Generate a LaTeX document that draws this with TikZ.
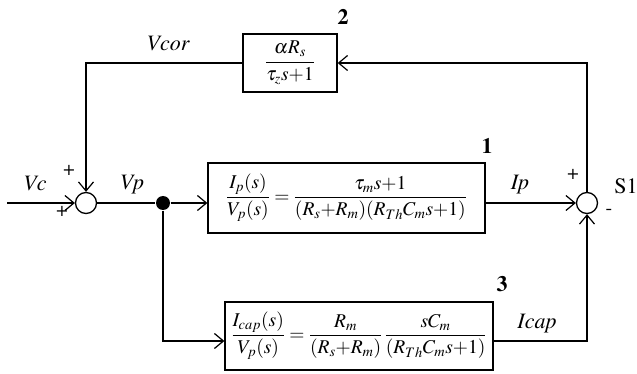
\documentclass[tikz,border=0pt]{standalone}
\usepackage[T1]{fontenc}
\usepackage{mathptmx}
\usetikzlibrary{arrows.meta}
\begin{document}
\begin{tikzpicture}[x=1pt,y=-1pt, line width=1.3pt,
  >={Straight Barb[length=9pt,width=15pt,line width=1.2pt]},
  lbl/.style={font=\fontsize{22}{26}\selectfont\itshape, inner sep=0pt},
  rml/.style={font=\fontsize{22}{26}\selectfont, inner sep=0pt},
  num/.style={font=\fontsize{22}{26}\selectfont\bfseries, inner sep=0pt},
  sgn/.style={font=\fontsize{20}{24}\selectfont, inner sep=0pt},
  blk/.style={draw, rectangle, inner sep=0pt, font=\fontsize{19.5}{23}\selectfont},
  sumc/.style={draw, circle, minimum size=21pt, inner sep=0pt},
]
\useasboundingbox (0,0) rectangle (637,374);
\medmuskip=0mu
% summing junctions and branch point
\node[sumc] (sum1) at (86,203) {};
\node[sumc] (s1) at (587,203) {};
\node[circle, fill, inner sep=0pt, minimum size=14pt] (dot) at (163,203) {};
% blocks
\node[blk, minimum width=94pt, minimum height=58pt] (b2) at (290,63)
  {$\displaystyle\frac{\alpha R_s}{\tau_z s+1}$};
\node[blk, minimum width=277pt, minimum height=70pt] (b1) at (346.5,198)
  {$\displaystyle\frac{I_p(s)}{V_p(s)} = \frac{\tau_m s+1}{(R_s+R_m)(R_{Th}C_m s+1)}$};
\node[blk, minimum width=268pt, minimum height=68pt] (b3) at (359,336)
  {$\displaystyle\frac{I_{cap}(s)}{V_p(s)} = \frac{R_m}{(R_s+R_m)}\,\frac{sC_m}{(R_{Th}C_m s+1)}$};
% connectors
\coordinate (in) at (7,203);
\coordinate (c3) at (163,341);
\coordinate (c6) at (587,341);
\draw[->] (in) -- (sum1.west);
\draw[->] (b2.west) -| (sum1.north);
\draw (sum1.east) -- (dot);
\draw[->] (dot) -- (dot -| b1.west);
\draw[->] (dot) -- (c3) -- (c3 -| b3.west);
\draw[->] (b1.east |- s1) -- (s1.west);
\draw[->] (c6 -| b3.east) -- (c6) -- (s1.south);
\draw[->] (s1.north) |- (b2.east);
% labels
\node[lbl] (lvcor) at (168,44) {Vcor};
\node[lbl] (lvc) at (35,184) {Vc};
\node[lbl] (lvp) at (132,185) {Vp};
\node[lbl] (lip) at (520,185) {Ip};
\node[lbl] (licap) at (537,324) {Icap};
\node[rml] (ls1) at (626,186) {S1};
\node[num] (n2) at (343,17) {2};
\node[num] (n1) at (487,146) {1};
\node[num] (n3) at (502,284) {3};
\node[sgn] (p1) at (69,170) {+};
\node[sgn] (p2) at (62,211) {+};
\node[sgn] (p3) at (573,174) {+};
\node[sgn] (m1) at (609,212) {-};
\end{tikzpicture}
\end{document}
